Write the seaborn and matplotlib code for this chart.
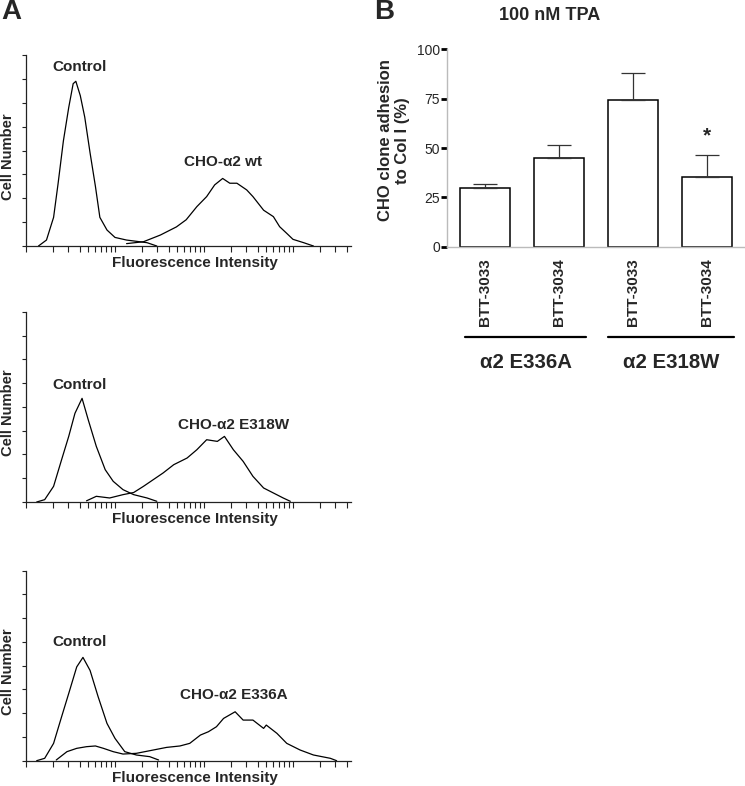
import numpy as np
import pandas as pd
import matplotlib
matplotlib.use("Agg")
import matplotlib.pyplot as plt
import seaborn as sns
from matplotlib.ticker import LogLocator, NullFormatter

# ---- panel A: flow cytometry histograms (log10 fluorescence, cell number) ----
wt_ctrl_log = [0.14, 0.23, 0.31, 0.36, 0.42, 0.48, 0.53, 0.56, 0.61, 0.66, 0.72, 0.78,
               0.83, 0.91, 1.0, 1.13, 1.36, 1.47]
wt_ctrl_n = [0, 0.25, 1.2, 2.6, 4.4, 5.8, 6.8, 6.9, 6.3, 5.4, 3.9, 2.5,
             1.2, 0.67, 0.36, 0.25, 0.14, 0]
wt_log = [1.13, 1.32, 1.51, 1.69, 1.8, 1.92, 2.03, 2.12, 2.21, 2.29, 2.37, 2.48,
          2.55, 2.67, 2.78, 2.85, 2.93, 3.0, 3.12, 3.23]
wt_n = [0.1, 0.18, 0.46, 0.8, 1.1, 1.65, 2.07, 2.56, 2.83, 2.63, 2.63, 2.35,
        2.07, 1.5, 1.23, 0.81, 0.53, 0.28, 0.14, 0]

w_ctrl_log = [0.12, 0.21, 0.31, 0.40, 0.48, 0.55, 0.63, 0.70, 0.79, 0.89, 0.98, 1.09,
              1.21, 1.36, 1.47]
w_ctrl_n = [0, 0.1, 0.66, 1.78, 2.76, 3.73, 4.36, 3.45, 2.34, 1.36, 0.87, 0.52,
            0.31, 0.17, 0.03]
e318w_log = [0.68, 0.79, 0.94, 1.09, 1.21, 1.32, 1.43, 1.54, 1.66, 1.81, 1.92, 2.03,
             2.15, 2.23, 2.33, 2.44, 2.55, 2.67, 2.78, 2.89, 2.97]
e318w_n = [0.05, 0.24, 0.17, 0.31, 0.4, 0.66, 0.94, 1.22, 1.57, 1.85, 2.2, 2.62,
           2.55, 2.76, 2.2, 1.71, 1.08, 0.59, 0.38, 0.17, 0.03]

a_ctrl_log = [0.12, 0.21, 0.31, 0.40, 0.48, 0.57, 0.64, 0.72, 0.81, 0.91, 1.0, 1.11,
              1.24, 1.39, 1.49]
a_ctrl_n = [0, 0.1, 0.73, 1.85, 2.83, 3.95, 4.35, 3.8, 2.7, 1.57, 0.94, 0.38,
            0.24, 0.17, 0.03]
e336a_log = [0.34, 0.46, 0.57, 0.68, 0.78, 0.87, 0.98, 1.09, 1.24, 1.39, 1.58, 1.73,
             1.84, 1.96, 2.05, 2.14, 2.22, 2.35, 2.44, 2.55, 2.67, 2.70, 2.82, 2.93,
             3.08, 3.23, 3.42, 3.49]
e336a_n = [0.03, 0.38, 0.52, 0.59, 0.62, 0.52, 0.38, 0.28, 0.31, 0.42, 0.56, 0.62,
           0.73, 1.08, 1.22, 1.43, 1.78, 2.06, 1.71, 1.71, 1.36, 1.5, 1.15, 0.73,
           0.45, 0.24, 0.1, 0]

panels = [
    (wt_ctrl_log, wt_ctrl_n, wt_log, wt_n, "CHO-\u03b12 wt", (4.05, 7.5), (163, 3.52)),
    (w_ctrl_log, w_ctrl_n, e318w_log, e318w_n, "CHO-\u03b12 E318W", (4.05, 4.93), (214, 3.24)),
    (a_ctrl_log, a_ctrl_n, e336a_log, e336a_n, "CHO-\u03b12 E336A", (4.05, 5.0), (214, 2.77)),
]

# ---- panel B: adhesion ----
groups = ["\u03b12 E336A", "\u03b12 E336A", "\u03b12 E318W", "\u03b12 E318W"]
clones = ["BTT-3033", "BTT-3034", "BTT-3033", "BTT-3034"]
adhesion = [29.6, 44.8, 74.3, 35.5]
adhesion_err = [2.0, 6.7, 13.5, 11.1]

sns.set_style("ticks")
plt.rcParams['font.family'] = ['Liberation Sans', 'DejaVu Sans']

fig = plt.figure(figsize=(7.45, 7.86), dpi=100)

hist_boxes = [[0.0349, 0.687, 0.436, 0.243],
              [0.0349, 0.3613, 0.436, 0.242],
              [0.0349, 0.0322, 0.436, 0.2417]]

for box, (c_log, c_n, s_log, s_n, name, c_pos, s_pos) in zip(hist_boxes, panels):
    ax = fig.add_axes(box)
    ctrl = pd.DataFrame({"fl": 10 ** np.array(c_log), "n": c_n})
    samp = pd.DataFrame({"fl": 10 ** np.array(s_log), "n": s_n})
    sns.lineplot(data=ctrl, x="fl", y="n", ax=ax, color="black", lw=0.9,
                 sort=False, estimator=None)
    sns.lineplot(data=samp, x="fl", y="n", ax=ax, color="black", lw=0.9,
                 sort=False, estimator=None)
    ax.set_xscale("log")
    ax.set_xlim(1, 10 ** 3.65)
    ax.set_ylim(0, 8)
    ax.set_yticks(range(9))
    ax.set_yticklabels([])
    ax.xaxis.set_major_locator(LogLocator(base=10, numticks=10))
    ax.xaxis.set_minor_locator(LogLocator(base=10, subs=np.arange(2, 10), numticks=10))
    ax.xaxis.set_major_formatter(NullFormatter())
    ax.xaxis.set_minor_formatter(NullFormatter())
    ax.tick_params(axis="y", length=3, width=0.8, color="#222222")
    ax.tick_params(axis="x", which="both", length=4, width=0.8, color="#222222")
    for s in ["top", "right"]:
        ax.spines[s].set_visible(False)
    for s in ["left", "bottom"]:
        ax.spines[s].set_linewidth(0.9)
        ax.spines[s].set_color("#222222")
    ax.set_xlabel("")
    ax.set_ylabel("")
    ax.text(-0.055, 0.47, "Cell Number", transform=ax.transAxes, rotation=90,
            ha="center", va="center", fontsize=10.6, fontweight="bold")
    ax.text(0.52, -0.09, "Fluorescence Intensity", transform=ax.transAxes,
            ha="center", va="center", fontsize=11, fontweight="bold")
    ax.text(c_pos[0], c_pos[1], "Control", ha="center", va="center",
            fontsize=11, fontweight="bold")
    ax.text(s_pos[0], s_pos[1], name, ha="center", va="center",
            fontsize=11, fontweight="bold")

# bar chart
axb = fig.add_axes([0.5996, 0.6861, 0.399, 0.2511])
keys = [f"{g} {c}" for g, c in zip(groups, clones)]
bdf = pd.DataFrame({"key": keys, "adhesion": adhesion})
sns.barplot(data=bdf, x="key", y="adhesion", order=keys, ax=axb, color="white",
            edgecolor="black", linewidth=1.1, width=0.67, errorbar=None)
axb.errorbar(range(len(adhesion)), adhesion, yerr=[np.zeros(len(adhesion)), adhesion_err],
             fmt="none", ecolor="#333333", elinewidth=0.9, capsize=8.6, capthick=0.9)
axb.set_xlim(-0.52, 3.5)
axb.set_ylim(0, 100)
axb.set_yticks([0, 25, 50, 75, 100])
axb.set_yticklabels(["0", "25", "50", "75", "100"], fontsize=10)
axb.set_xticks(range(len(clones)))
axb.set_xticklabels(clones, rotation=90, fontsize=11, fontweight="bold", va="top")
axb.tick_params(axis="x", length=0, pad=8)
axb.tick_params(axis="y", length=4, width=2, color="black", pad=1)
for s in ["top", "right"]:
    axb.spines[s].set_visible(False)
for s in ["left", "bottom"]:
    axb.spines[s].set_color("#bbbbbb")
    axb.spines[s].set_linewidth(1.0)
axb.set_xlabel("")
axb.set_ylabel("")
axb.text(-0.177, 0.54, "CHO clone adhesion\nto Col I (%)", transform=axb.transAxes,
         rotation=90, ha="center", va="center", fontsize=12, fontweight="bold",
         linespacing=1.1)
axb.text(3, 56, "*", ha="center", va="center", fontsize=15, fontweight="bold")

# group brackets below the clone labels
tr = axb.get_xaxis_transform()
for (x0, x1), gname in zip([(-0.27, 1.37), (1.66, 3.36)], ["\u03b12 E336A", "\u03b12 E318W"]):
    axb.plot([x0, x1], [-0.455, -0.455], transform=tr, color="black", lw=1.6,
             clip_on=False)
    axb.text((x0 + x1) / 2, -0.589, gname, transform=tr, ha="center", va="center",
             fontsize=14.7, fontweight="bold")

fig.text(550 / 745, 1 - 15 / 786, "100 nM TPA", ha="center", va="center",
         fontsize=13, fontweight="bold")
fig.text(11 / 745, 1 - 12 / 786, "A", ha="center", va="center", fontsize=20,
         fontweight="bold")
fig.text(384 / 745, 1 - 12 / 786, "B", ha="center", va="center", fontsize=20,
         fontweight="bold")

fig.savefig("out.png", dpi=100)
